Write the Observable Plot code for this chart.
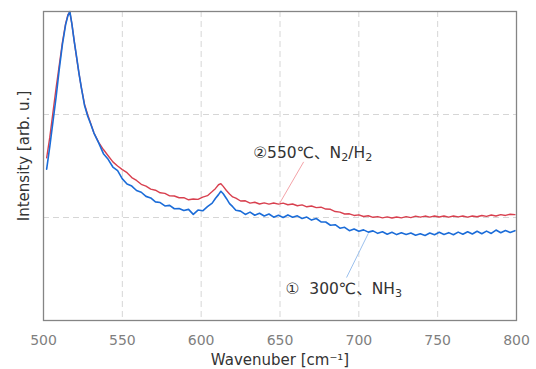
<!DOCTYPE html>
<html><head><meta charset="utf-8">
<script src="https://cdn.jsdelivr.net/npm/d3@7"></script>
<script src="https://cdn.jsdelivr.net/npm/@observablehq/plot@0.6"></script>
<style>
body{margin:0;background:#fff}
svg{font-family:"DejaVu Sans","Noto Sans CJK JP",sans-serif}
</style>
</head><body><div id="chart"></div>
<script>
// Wavenumber samples [cm-1]
const wavenumbers = [502,504,506,508,510,512,514,515.5,516.7,518,519.5,521,522.5,524,526,528,530,532,535,538,541,544,547,
550,553,556,559,562,565,568,571,574,577,580,583,586,589,592,595,598,601,604,607,
609,611,612.5,614,616,618,620,
622,625,628,631,634,637,640,643,646,649,652,655,658,661,664,667,670,673,676,679,682,685,688,691,694,697,700,703,706,709,712,715,718,721,724,727,730,733,736,739,742,745,748,751,754,757,760,763,766,769,772,775,778,781,784,787,790,793,796,799];

// ① 300℃、NH3 (blue)
const intensityNH3 = [1.47,1.69,1.93,2.17,2.44,2.68,2.87,2.96,3.00,2.88,2.71,2.56,2.40,2.26,2.09,1.985,1.905,1.82,1.725,1.62,1.565,1.49,1.455,
1.375,1.325,1.305,1.262,1.245,1.205,1.19,1.152,1.145,1.112,1.118,1.085,1.088,1.068,1.079,1.03,1.072,1.065,1.105,1.14,
1.185,1.222,1.255,1.23,1.185,1.135,1.105,
1.07,1.062,1.03,1.052,1.022,1.041,1.015,1.034,1.003,1.022,1.0,1.025,1.002,1.016,0.99,1.004,0.975,0.99,0.958,0.956,0.925,0.93,0.896,0.905,0.872,0.888,0.866,0.88,0.858,0.87,0.846,0.861,0.838,0.856,0.834,0.852,0.836,0.85,0.828,0.842,0.826,0.85,0.833,0.856,0.836,0.853,0.832,0.858,0.838,0.862,0.84,0.866,0.842,0.868,0.845,0.878,0.852,0.874,0.855,0.872];

// ② 550℃、N2/H2 (red)
const intensityN2H2 = [1.58,1.78,2.02,2.26,2.48,2.70,2.88,2.97,2.995,2.88,2.71,2.55,2.40,2.26,2.10,2.00,1.91,1.82,1.73,1.66,1.60,1.54,1.50,
1.465,1.435,1.388,1.36,1.322,1.305,1.276,1.265,1.24,1.234,1.21,1.209,1.192,1.192,1.172,1.18,1.176,1.198,1.212,1.252,
1.28,1.318,1.328,1.302,1.262,1.228,1.20,
1.188,1.16,1.162,1.14,1.148,1.131,1.142,1.13,1.141,1.13,1.139,1.124,1.131,1.114,1.122,1.104,1.112,1.096,1.1,1.082,1.08,1.058,1.052,1.034,1.036,1.02,1.026,1.01,1.017,1.002,1.009,0.996,1.006,0.995,1.005,0.996,1.008,0.999,1.013,1.003,1.014,1.004,1.015,1.005,1.014,1.004,1.015,1.006,1.014,1.004,1.015,1.007,1.019,1.011,1.024,1.015,1.028,1.02,1.032,1.028];

const xTicks = [500,550,600,650,700,750,800];
const yGrid = [1,2];

// Annotations: label text, label anchor, leader line start/end (data units)
const labelTexts = ["②550℃、N₂/H₂", "①  300℃、NH₃"];
const labelX = [633, 653.5];
const labelY = [1.63, 0.31];
const leaderX1 = [665, 706];
const leaderY1 = [1.54, 0.845];
const leaderX2 = [649.7, 692.2];
const leaderY2 = [1.136, 0.417];
const seriesColors = ["#d8404f", "#1b6cd8"];
const leaderColors = ["#f4a3a8", "#9cc1ee"];

const rowsRed = wavenumbers.map((w, i) => ({w, v: intensityN2H2[i]}));
const rowsBlue = wavenumbers.map((w, i) => ({w, v: intensityNH3[i]}));
const labels = labelTexts.map((t, i) => ({t, x: labelX[i], y: labelY[i]}));
const leaders = leaderX1.map((x1, i) => ({x1, y1: leaderY1[i], x2: leaderX2[i], y2: leaderY2[i], c: leaderColors[i]}));

const chart = Plot.plot({
  width: 536, height: 369,
  marginLeft: 43, marginRight: 20, marginTop: 11, marginBottom: 49,
  x: {domain: [500, 800]},
  y: {domain: [0, 3], axis: null},
  marks: [
    Plot.gridX(xTicks.slice(1, -1), {stroke: "#d6d6d6", strokeOpacity: 1, strokeDasharray: "6,4", strokeWidth: 1}),
    Plot.gridY(yGrid, {stroke: "#d6d6d6", strokeOpacity: 1, strokeDasharray: "6,4", strokeWidth: 1}),
    Plot.line(rowsRed, {x: "w", y: "v", stroke: seriesColors[0], strokeWidth: 1.4}),
    Plot.line(rowsBlue, {x: "w", y: "v", stroke: seriesColors[1], strokeWidth: 1.6}),
    Plot.link(leaders, {x1: "x1", y1: "y1", x2: "x2", y2: "y2", stroke: "c", strokeWidth: 1}),
    Plot.text(labels, {x: "x", y: "y", text: "t", textAnchor: "start", fontSize: 15.5, fill: "#333"}),
    Plot.frame({stroke: "#858585", strokeWidth: 1.3}),
    Plot.axisX(xTicks, {tickSize: 0, tickPadding: 15, fontSize: 14, fill: "#7f7f7f", label: null}),
    Plot.text(["Wavenuber [cm⁻¹]"], {frameAnchor: "bottom", dy: 44, fontSize: 15, fill: "#333"}),
    Plot.text(["Intensity [arb. u.]"], {frameAnchor: "left", textAnchor: "middle", dx: -19, dy: -10, rotate: -90, fontSize: 15, fill: "#333"})
  ]
});
// Render the Unicode subscripts as real subscript tspans
chart.querySelectorAll("text").forEach(t => {
  const s = t.textContent;
  if (!/[₂₃]/.test(s)) return;
  t.textContent = "";
  let shifted = false;
  for (const part of s.split(/([₂₃])/)) {
    if (!part) continue;
    const sp = document.createElementNS("http://www.w3.org/2000/svg", "tspan");
    if (part === "₂" || part === "₃") {
      sp.textContent = part === "₂" ? "2" : "3";
      sp.setAttribute("font-size", "0.72em");
      if (!shifted) sp.setAttribute("dy", "0.3em");
      shifted = true;
    } else {
      sp.textContent = part;
      if (shifted) sp.setAttribute("dy", "-0.22em");
      shifted = false;
    }
    t.appendChild(sp);
  }
});
document.getElementById("chart").append(chart);
</script>
</body></html>
